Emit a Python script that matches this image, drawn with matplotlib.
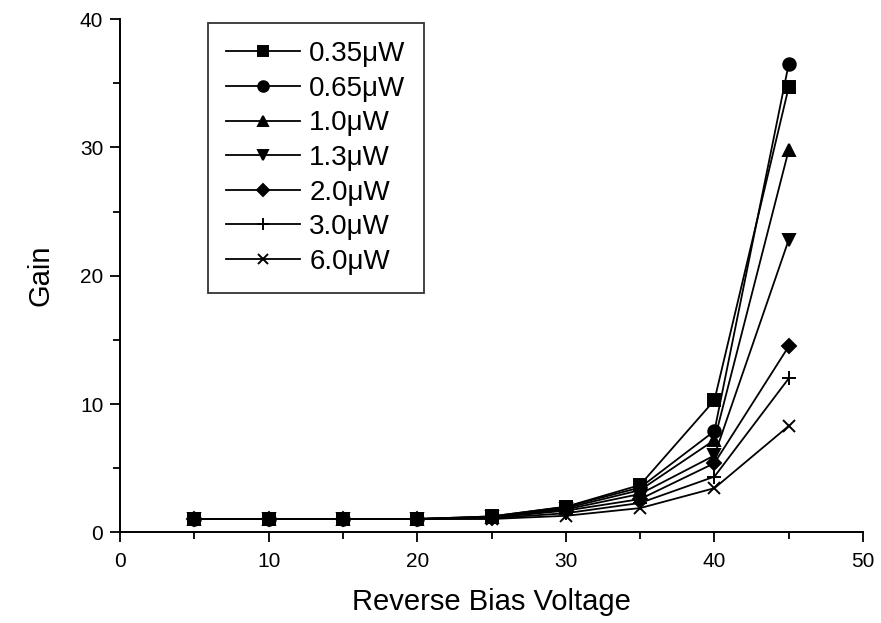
import matplotlib.pyplot as plt
from matplotlib.ticker import MultipleLocator

plt.rcParams["font.family"] = ["Liberation Sans", "DejaVu Sans"]

voltage = [5, 10, 15, 20, 25, 30, 35, 40, 45]

gain_035 = [1.05, 1.05, 1.05, 1.05, 1.25, 2.0, 3.7, 10.3, 34.7]
gain_065 = [1.05, 1.05, 1.05, 1.05, 1.25, 2.0, 3.5, 7.9, 36.5]
gain_10 = [1.05, 1.05, 1.05, 1.05, 1.2, 1.9, 3.3, 7.2, 29.8]
gain_13 = [1.05, 1.05, 1.05, 1.05, 1.2, 1.8, 3.0, 6.0, 22.8]
gain_20 = [1.05, 1.05, 1.05, 1.05, 1.15, 1.7, 2.6, 5.4, 14.5]
gain_30 = [1.05, 1.05, 1.05, 1.05, 1.1, 1.5, 2.3, 4.35, 12.0]
gain_60 = [1.05, 1.05, 1.05, 1.05, 1.05, 1.3, 1.9, 3.45, 8.3]

labels = ["0.35μW", "0.65μW", "1.0μW", "1.3μW", "2.0μW", "3.0μW", "6.0μW"]
series = [gain_035, gain_065, gain_10, gain_13, gain_20, gain_30, gain_60]
markers = ["s", "o", "^", "v", "D", "+", "x"]
sizes = [8, 9, 9, 9, 7.5, 10, 9]

fig = plt.figure(figsize=(8.81, 6.23), dpi=100)
ax = fig.add_axes([0.1362, 0.1453, 0.8434, 0.8242])

for values, label, marker, size in zip(series, labels, markers, sizes):
    ax.plot(
        voltage,
        values,
        color="black",
        linewidth=1.3,
        marker=marker,
        markersize=size,
        markeredgewidth=1.4,
        label=label,
    )

ax.set_xlim(0, 50)
ax.set_ylim(0, 40)
ax.xaxis.set_major_locator(MultipleLocator(10))
ax.xaxis.set_minor_locator(MultipleLocator(5))
ax.yaxis.set_major_locator(MultipleLocator(10))
ax.yaxis.set_minor_locator(MultipleLocator(5))
ax.tick_params(which="major", direction="out", length=7, width=1.3, labelsize=15)
ax.tick_params(axis="x", which="major", pad=7)
ax.tick_params(axis="y", which="major", pad=5)
ax.tick_params(which="minor", direction="out", length=5, width=1.3)
ax.spines["top"].set_visible(False)
ax.spines["right"].set_visible(False)
ax.spines["left"].set_linewidth(1.4)
ax.spines["bottom"].set_linewidth(1.4)

ax.set_xlabel("Reverse Bias Voltage", fontsize=21, labelpad=12)
ax.set_ylabel("Gain", fontsize=21, labelpad=18)

legend = ax.legend(
    loc="upper left",
    bbox_to_anchor=(0.1184, 0.992),
    fontsize=20,
    frameon=True,
    fancybox=False,
    edgecolor="black",
    handlelength=2.65,
    handletextpad=0.35,
    labelspacing=0.31,
    borderpad=0.65,
    borderaxespad=0.0,
    markerscale=0.85,
)
legend.get_frame().set_linewidth(1.3)

fig.savefig("out.png", dpi=100)
